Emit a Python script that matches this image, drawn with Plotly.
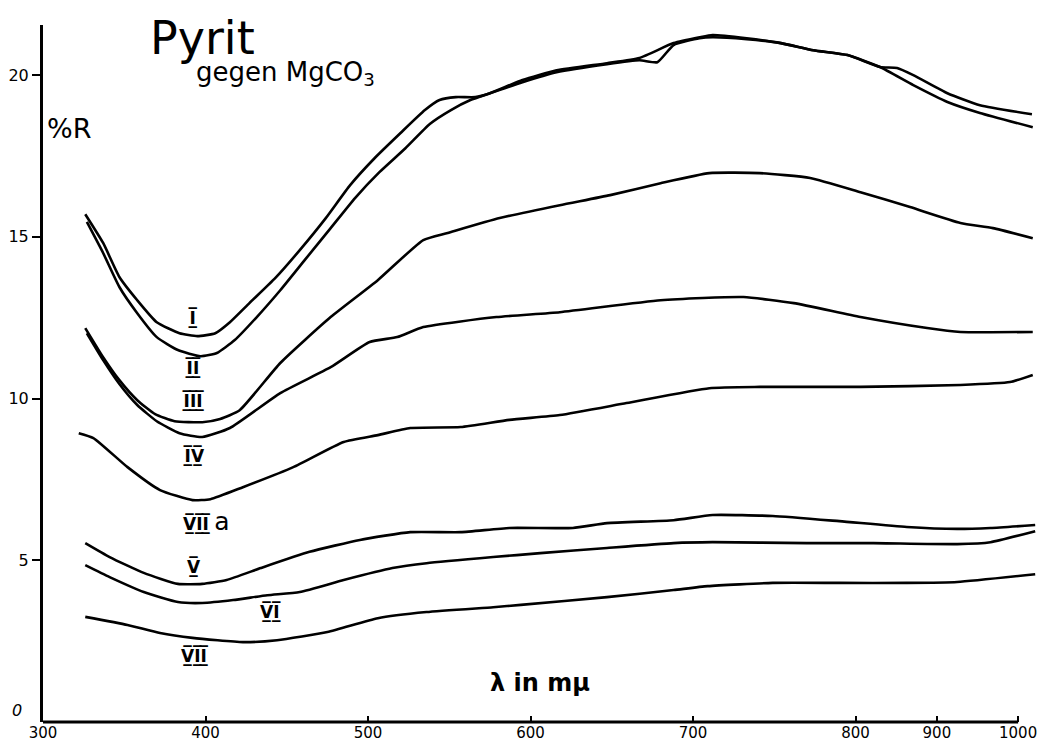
import plotly.graph_objects as go

# ---- data: wavelength (mμ) and reflectance (%R) ----
wl_I = [326, 337, 347, 358, 370, 384, 395, 406, 415, 427, 443, 458, 474, 489, 504, 520, 535, 544, 554, 566,
        575, 595, 616, 647, 667, 688, 704, 712, 733, 754, 774, 795, 830, 851, 871, 913, 953, 1017]
R_I = [15.70, 14.81, 13.76, 13.04, 12.36, 12.02, 11.93, 12.02, 12.36, 12.95, 13.73, 14.59, 15.58, 16.60, 17.43,
       18.21, 18.92, 19.23, 19.32, 19.32, 19.44, 19.85, 20.15, 20.37, 20.53, 20.99, 21.17, 21.24, 21.14, 20.99,
       20.77, 20.62, 20.25, 20.22, 20.00, 19.44, 19.07, 18.79]

wl_II = [327, 337, 347, 358, 370, 383, 397, 407, 418, 431, 446, 461, 477, 492, 507, 523, 538, 551, 563, 575,
         595, 616, 647, 667, 678, 688, 704, 712, 733, 754, 774, 795, 830, 871, 913, 953, 1018]
R_II = [15.46, 14.50, 13.45, 12.64, 11.90, 11.50, 11.31, 11.41, 11.81, 12.49, 13.35, 14.28, 15.27, 16.20, 17.00,
        17.74, 18.49, 18.92, 19.23, 19.44, 19.78, 20.09, 20.34, 20.46, 20.40, 20.93, 21.14, 21.17, 21.11, 20.99,
        20.77, 20.62, 20.25, 19.69, 19.17, 18.83, 18.39]

wl_III = [326, 337, 347, 358, 369, 381, 398, 409, 421, 446, 477, 506, 534, 549, 581, 618, 649, 680, 710, 741,
          772, 806, 867, 929, 969, 1018]
R_III = [12.18, 11.28, 10.57, 9.95, 9.52, 9.30, 9.27, 9.37, 9.64, 11.10, 12.52, 13.66, 14.90, 15.12, 15.58,
         15.98, 16.29, 16.66, 16.97, 16.97, 16.82, 16.38, 15.92, 15.43, 15.27, 14.96]

wl_IV = [327, 337, 347, 358, 370, 384, 398, 415, 446, 477, 501, 518, 534, 579, 618, 680, 731, 762, 806, 888,
         929, 1018]
R_IV = [12.02, 11.19, 10.45, 9.80, 9.30, 8.93, 8.81, 9.09, 10.17, 10.97, 11.75, 11.90, 12.21, 12.52, 12.67,
        13.04, 13.14, 12.95, 12.52, 12.18, 12.06, 12.06]

wl_VIIa = [322, 331, 352, 372, 392, 403, 423, 454, 485, 506, 526, 557, 587, 618, 659, 710, 741, 806, 929, 990, 1018]
R_VIIa = [8.93, 8.78, 7.88, 7.17, 6.86, 6.89, 7.26, 7.88, 8.66, 8.87, 9.09, 9.12, 9.34, 9.49, 9.86, 10.32,
          10.36, 10.36, 10.42, 10.51, 10.73]

wl_V = [326, 341, 362, 383, 398, 413, 434, 464, 495, 526, 557, 587, 626, 647, 688, 712, 749, 790, 863, 925, 966, 1021]
R_V = [5.53, 5.10, 4.61, 4.27, 4.27, 4.39, 4.76, 5.26, 5.63, 5.87, 5.87, 6.00, 6.00, 6.15, 6.24, 6.40, 6.37,
       6.21, 6.03, 5.97, 6.00, 6.09]

wl_VI = [326, 341, 362, 383, 398, 417, 438, 458, 485, 515, 536, 577, 606, 647, 688, 712, 770, 822, 925, 966, 1021]
R_VI = [4.85, 4.48, 4.02, 3.71, 3.68, 3.77, 3.92, 4.02, 4.39, 4.76, 4.91, 5.10, 5.22, 5.38, 5.53, 5.56, 5.53,
        5.53, 5.50, 5.56, 5.90]

wl_VII = [326, 352, 372, 392, 423, 444, 475, 506, 536, 577, 594, 647, 688, 709, 749, 790, 863, 925, 1021]
R_VII = [3.25, 3.00, 2.75, 2.60, 2.47, 2.53, 2.78, 3.21, 3.40, 3.55, 3.62, 3.86, 4.08, 4.20, 4.30, 4.30, 4.30,
         4.33, 4.57]

tick_wl = [300, 400, 500, 600, 700, 800, 900, 1000]
y_ticks = [5, 10, 15, 20]

series = [
    ("I", wl_I, R_I), ("II", wl_II, R_II), ("III", wl_III, R_III), ("IV", wl_IV, R_IV),
    ("VIIa", wl_VIIa, R_VIIa), ("V", wl_V, R_V), ("VI", wl_VI, R_VI), ("VII", wl_VII, R_VII),
]


# the wavelength axis of the original is compressed by half above 800 mμ
def axis_x(lam):
    return lam if lam <= 800 else 800 + (lam - 800) / 2.0


X_RANGE = [300, 911]   # the curves run a little past the last tick (1000)
FONT = "DejaVu Sans"

fig = go.Figure()
for name, wl, r in series:
    fig.add_trace(go.Scatter(
        x=[axis_x(v) for v in wl], y=r, mode="lines", name=name,
        line=dict(color="black", width=2.6, shape="spline", smoothing=0.5),
        hoverinfo="skip", showlegend=False,
    ))


def roman(s):
    return "".join(ch + "\u0332\u0305" for ch in s)


def note(x, y, text, size, xref="paper", yref="paper", bold=False):
    fig.add_annotation(x=x, y=y, xref=xref, yref=yref, text=("<b>%s</b>" % text) if bold else text,
                       showarrow=False, xanchor="center", yanchor="middle",
                       font=dict(family=FONT, size=size, color="black"))


# curve labels (label anchor in data units: wavelength, %R)
label_pos = {
    "I": (392, 12.5), "II": (392, 10.95), "III": (392, 9.95), "IV": (393, 8.25),
    "V": (393, 4.8), "VI": (440, 3.42), "VII": (393, 2.05),
}
for key, (lx, ly) in label_pos.items():
    note(axis_x(lx), ly, roman(key), 17, xref="x", yref="y", bold=True)
fig.add_annotation(x=axis_x(385), y=6.2, xref="x", yref="y", xanchor="left", yanchor="middle",
                   text="<b>" + roman("VII") + "</b> <span style='font-size:25px'>a</span>", showarrow=False,
                   font=dict(family=FONT, size=17, color="black"))

# titles and axis captions
note(0.161, 0.981, "Pyrit", 46)
note(0.244, 0.930, "gegen MgCO<sub>3</sub>", 26)
note(0.026, 0.852, "%R", 27)
note(0.501, 0.056, "λ in mμ", 24, bold=True)
note(-0.026, 0.016, "<i>0</i>", 16)

# x-axis baseline drawn only from the first to the last tick (300 … 1000)
span = X_RANGE[1] - X_RANGE[0]
fig.add_shape(type="line", xref="paper", yref="paper",
              x0=(axis_x(tick_wl[0]) - X_RANGE[0]) / span, x1=(axis_x(tick_wl[-1]) - X_RANGE[0]) / span,
              y0=0, y1=0, line=dict(color="black", width=3))

fig.update_layout(
    width=1063, height=747,
    margin=dict(l=43, r=27, t=25, b=25),
    paper_bgcolor="white", plot_bgcolor="white",
    showlegend=False,
)
fig.update_xaxes(
    range=X_RANGE, showgrid=False, zeroline=False, automargin=False, showline=False,
    tickvals=[axis_x(t) for t in tick_wl], ticktext=[str(t) for t in tick_wl],
    ticks="inside", ticklen=6, tickwidth=2, tickcolor="black",
    tickfont=dict(family=FONT, size=15, color="black"),
)
fig.update_yaxes(
    range=[0, 21.55], showgrid=False, zeroline=False, automargin=False,
    showline=True, linecolor="black", linewidth=3,
    tickvals=y_ticks, ticktext=[str(t) for t in y_ticks],
    ticks="outside", ticklen=8, tickwidth=2, tickcolor="black",
    tickfont=dict(family=FONT, size=16, color="black"),
)

fig.write_html("out.html")
